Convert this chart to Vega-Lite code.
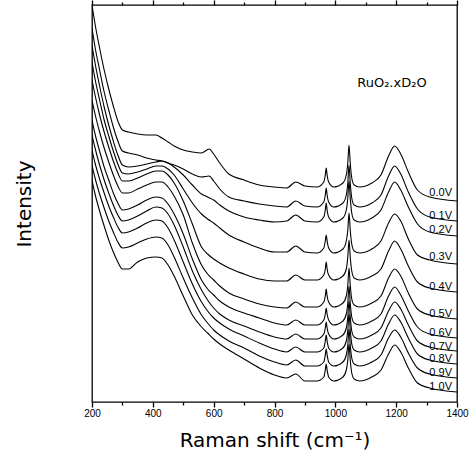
{
"$schema": "https://vega.github.io/schema/vega-lite/v6.json",
"width": 365, "height": 397,
"autosize": {"type": "none"},
"padding": {"left": 92, "top": 5, "right": 16, "bottom": 56},
"background": "white",
"config": {"view": {"stroke": "black", "strokeWidth": 1.3}, "axis": {"grid": false}},
"resolve": {"axis": {"x": "independent", "y": "independent"}},
"layer": [
{"data": {"values": [
{"s":"0.0V","x":200,"y":397},{"s":"0.0V","x":210,"y":378},{"s":"0.0V","x":225,"y":354},{"s":"0.0V","x":240,"y":332},{"s":"0.0V","x":255,"y":313},{"s":"0.0V","x":270,"y":296},{"s":"0.0V","x":285,"y":281},{"s":"0.0V","x":300,"y":272},{"s":"0.0V","x":320,"y":270},{"s":"0.0V","x":350,"y":268},{"s":"0.0V","x":380,"y":267},{"s":"0.0V","x":410,"y":267},{"s":"0.0V","x":430,"y":264},{"s":"0.0V","x":450,"y":260},{"s":"0.0V","x":470,"y":256},{"s":"0.0V","x":500,"y":252},{"s":"0.0V","x":530,"y":250},{"s":"0.0V","x":560,"y":249},{"s":"0.0V","x":585,"y":253},{"s":"0.0V","x":600,"y":248},{"s":"0.0V","x":620,"y":239},{"s":"0.0V","x":650,"y":228},{"s":"0.0V","x":700,"y":222},{"s":"0.0V","x":750,"y":217},{"s":"0.0V","x":800,"y":215},{"s":"0.0V","x":840,"y":214},{"s":"0.0V","x":870,"y":220},{"s":"0.0V","x":900,"y":216},{"s":"0.0V","x":940,"y":215},{"s":"0.0V","x":962,"y":220},{"s":"0.0V","x":967,"y":227},{"s":"0.0V","x":970,"y":234},{"s":"0.0V","x":973,"y":227},{"s":"0.0V","x":978,"y":220},{"s":"0.0V","x":995,"y":215},{"s":"0.0V","x":1025,"y":219},{"s":"0.0V","x":1036,"y":227},{"s":"0.0V","x":1041,"y":239},{"s":"0.0V","x":1045,"y":257},{"s":"0.0V","x":1049,"y":239},{"s":"0.0V","x":1054,"y":224},{"s":"0.0V","x":1062,"y":217},{"s":"0.0V","x":1080,"y":215},{"s":"0.0V","x":1120,"y":219},{"s":"0.0V","x":1150,"y":227},{"s":"0.0V","x":1175,"y":246},{"s":"0.0V","x":1195,"y":256},{"s":"0.0V","x":1215,"y":248},{"s":"0.0V","x":1240,"y":230},{"s":"0.0V","x":1270,"y":212},{"s":"0.0V","x":1310,"y":205},{"s":"0.0V","x":1400,"y":201},
{"s":"0.1V","x":200,"y":374},{"s":"0.1V","x":210,"y":355},{"s":"0.1V","x":225,"y":332},{"s":"0.1V","x":240,"y":310},{"s":"0.1V","x":255,"y":292},{"s":"0.1V","x":270,"y":275},{"s":"0.1V","x":285,"y":261},{"s":"0.1V","x":300,"y":251},{"s":"0.1V","x":320,"y":249},{"s":"0.1V","x":350,"y":247},{"s":"0.1V","x":380,"y":244},{"s":"0.1V","x":410,"y":242},{"s":"0.1V","x":430,"y":241},{"s":"0.1V","x":450,"y":239},{"s":"0.1V","x":470,"y":237},{"s":"0.1V","x":500,"y":233},{"s":"0.1V","x":530,"y":228},{"s":"0.1V","x":560,"y":225},{"s":"0.1V","x":585,"y":226},{"s":"0.1V","x":600,"y":221},{"s":"0.1V","x":620,"y":213},{"s":"0.1V","x":650,"y":205},{"s":"0.1V","x":700,"y":201},{"s":"0.1V","x":750,"y":198},{"s":"0.1V","x":800,"y":196},{"s":"0.1V","x":840,"y":195},{"s":"0.1V","x":870,"y":201},{"s":"0.1V","x":900,"y":196},{"s":"0.1V","x":940,"y":195},{"s":"0.1V","x":962,"y":200},{"s":"0.1V","x":967,"y":207},{"s":"0.1V","x":970,"y":214},{"s":"0.1V","x":973,"y":207},{"s":"0.1V","x":978,"y":200},{"s":"0.1V","x":995,"y":195},{"s":"0.1V","x":1025,"y":199},{"s":"0.1V","x":1036,"y":207},{"s":"0.1V","x":1041,"y":219},{"s":"0.1V","x":1045,"y":237},{"s":"0.1V","x":1049,"y":219},{"s":"0.1V","x":1054,"y":204},{"s":"0.1V","x":1062,"y":197},{"s":"0.1V","x":1080,"y":195},{"s":"0.1V","x":1120,"y":199},{"s":"0.1V","x":1150,"y":207},{"s":"0.1V","x":1175,"y":226},{"s":"0.1V","x":1195,"y":236},{"s":"0.1V","x":1215,"y":228},{"s":"0.1V","x":1240,"y":210},{"s":"0.1V","x":1270,"y":193},{"s":"0.1V","x":1310,"y":185},{"s":"0.1V","x":1400,"y":181},
{"s":"0.2V","x":200,"y":357},{"s":"0.2V","x":210,"y":339},{"s":"0.2V","x":225,"y":316},{"s":"0.2V","x":240,"y":295},{"s":"0.2V","x":255,"y":277},{"s":"0.2V","x":270,"y":261},{"s":"0.2V","x":285,"y":247},{"s":"0.2V","x":300,"y":237},{"s":"0.2V","x":320,"y":235},{"s":"0.2V","x":350,"y":236},{"s":"0.2V","x":380,"y":238},{"s":"0.2V","x":410,"y":240},{"s":"0.2V","x":430,"y":241},{"s":"0.2V","x":450,"y":239},{"s":"0.2V","x":470,"y":235},{"s":"0.2V","x":500,"y":227},{"s":"0.2V","x":530,"y":217},{"s":"0.2V","x":560,"y":208},{"s":"0.2V","x":580,"y":205},{"s":"0.2V","x":600,"y":202},{"s":"0.2V","x":620,"y":197},{"s":"0.2V","x":650,"y":191},{"s":"0.2V","x":700,"y":185},{"s":"0.2V","x":750,"y":182},{"s":"0.2V","x":800,"y":180},{"s":"0.2V","x":840,"y":181},{"s":"0.2V","x":870,"y":187},{"s":"0.2V","x":900,"y":181},{"s":"0.2V","x":940,"y":180},{"s":"0.2V","x":962,"y":185},{"s":"0.2V","x":967,"y":192},{"s":"0.2V","x":970,"y":199},{"s":"0.2V","x":973,"y":192},{"s":"0.2V","x":978,"y":185},{"s":"0.2V","x":995,"y":180},{"s":"0.2V","x":1025,"y":184},{"s":"0.2V","x":1036,"y":192},{"s":"0.2V","x":1041,"y":204},{"s":"0.2V","x":1045,"y":221},{"s":"0.2V","x":1049,"y":204},{"s":"0.2V","x":1054,"y":189},{"s":"0.2V","x":1062,"y":182},{"s":"0.2V","x":1080,"y":180},{"s":"0.2V","x":1120,"y":184},{"s":"0.2V","x":1150,"y":192},{"s":"0.2V","x":1175,"y":210},{"s":"0.2V","x":1195,"y":220},{"s":"0.2V","x":1215,"y":212},{"s":"0.2V","x":1240,"y":195},{"s":"0.2V","x":1270,"y":178},{"s":"0.2V","x":1310,"y":170},{"s":"0.2V","x":1400,"y":166},
{"s":"0.3V","x":200,"y":340},{"s":"0.3V","x":210,"y":323},{"s":"0.3V","x":225,"y":302},{"s":"0.3V","x":240,"y":282},{"s":"0.3V","x":255,"y":266},{"s":"0.3V","x":270,"y":251},{"s":"0.3V","x":285,"y":238},{"s":"0.3V","x":300,"y":229},{"s":"0.3V","x":320,"y":228},{"s":"0.3V","x":350,"y":230},{"s":"0.3V","x":380,"y":233},{"s":"0.3V","x":410,"y":236},{"s":"0.3V","x":430,"y":236},{"s":"0.3V","x":450,"y":233},{"s":"0.3V","x":470,"y":227},{"s":"0.3V","x":500,"y":213},{"s":"0.3V","x":530,"y":199},{"s":"0.3V","x":560,"y":188},{"s":"0.3V","x":580,"y":183},{"s":"0.3V","x":600,"y":179},{"s":"0.3V","x":620,"y":174},{"s":"0.3V","x":650,"y":167},{"s":"0.3V","x":700,"y":160},{"s":"0.3V","x":750,"y":154},{"s":"0.3V","x":800,"y":150},{"s":"0.3V","x":840,"y":150},{"s":"0.3V","x":870,"y":156},{"s":"0.3V","x":900,"y":150},{"s":"0.3V","x":940,"y":149},{"s":"0.3V","x":962,"y":154},{"s":"0.3V","x":967,"y":161},{"s":"0.3V","x":970,"y":167},{"s":"0.3V","x":973,"y":161},{"s":"0.3V","x":978,"y":154},{"s":"0.3V","x":995,"y":149},{"s":"0.3V","x":1025,"y":153},{"s":"0.3V","x":1036,"y":161},{"s":"0.3V","x":1041,"y":172},{"s":"0.3V","x":1045,"y":189},{"s":"0.3V","x":1049,"y":172},{"s":"0.3V","x":1054,"y":158},{"s":"0.3V","x":1062,"y":151},{"s":"0.3V","x":1080,"y":149},{"s":"0.3V","x":1120,"y":153},{"s":"0.3V","x":1150,"y":161},{"s":"0.3V","x":1175,"y":179},{"s":"0.3V","x":1195,"y":188},{"s":"0.3V","x":1215,"y":181},{"s":"0.3V","x":1240,"y":163},{"s":"0.3V","x":1270,"y":147},{"s":"0.3V","x":1310,"y":142},{"s":"0.3V","x":1400,"y":138},
{"s":"0.4V","x":200,"y":322},{"s":"0.4V","x":210,"y":307},{"s":"0.4V","x":225,"y":287},{"s":"0.4V","x":240,"y":270},{"s":"0.4V","x":255,"y":255},{"s":"0.4V","x":270,"y":241},{"s":"0.4V","x":285,"y":229},{"s":"0.4V","x":300,"y":221},{"s":"0.4V","x":320,"y":221},{"s":"0.4V","x":350,"y":224},{"s":"0.4V","x":380,"y":228},{"s":"0.4V","x":410,"y":231},{"s":"0.4V","x":430,"y":231},{"s":"0.4V","x":450,"y":227},{"s":"0.4V","x":470,"y":219},{"s":"0.4V","x":500,"y":201},{"s":"0.4V","x":530,"y":178},{"s":"0.4V","x":560,"y":155},{"s":"0.4V","x":580,"y":148},{"s":"0.4V","x":600,"y":143},{"s":"0.4V","x":620,"y":139},{"s":"0.4V","x":650,"y":134},{"s":"0.4V","x":700,"y":128},{"s":"0.4V","x":750,"y":123},{"s":"0.4V","x":800,"y":121},{"s":"0.4V","x":840,"y":121},{"s":"0.4V","x":870,"y":127},{"s":"0.4V","x":900,"y":122},{"s":"0.4V","x":940,"y":122},{"s":"0.4V","x":962,"y":127},{"s":"0.4V","x":967,"y":133},{"s":"0.4V","x":970,"y":140},{"s":"0.4V","x":973,"y":133},{"s":"0.4V","x":978,"y":127},{"s":"0.4V","x":995,"y":122},{"s":"0.4V","x":1025,"y":126},{"s":"0.4V","x":1036,"y":133},{"s":"0.4V","x":1041,"y":145},{"s":"0.4V","x":1045,"y":162},{"s":"0.4V","x":1049,"y":145},{"s":"0.4V","x":1054,"y":131},{"s":"0.4V","x":1062,"y":124},{"s":"0.4V","x":1080,"y":122},{"s":"0.4V","x":1120,"y":126},{"s":"0.4V","x":1150,"y":133},{"s":"0.4V","x":1175,"y":151},{"s":"0.4V","x":1195,"y":161},{"s":"0.4V","x":1215,"y":153},{"s":"0.4V","x":1240,"y":136},{"s":"0.4V","x":1270,"y":120},{"s":"0.4V","x":1310,"y":114},{"s":"0.4V","x":1400,"y":110},
{"s":"0.5V","x":200,"y":302},{"s":"0.5V","x":210,"y":288},{"s":"0.5V","x":225,"y":270},{"s":"0.5V","x":240,"y":254},{"s":"0.5V","x":255,"y":240},{"s":"0.5V","x":270,"y":227},{"s":"0.5V","x":285,"y":216},{"s":"0.5V","x":300,"y":209},{"s":"0.5V","x":320,"y":209},{"s":"0.5V","x":350,"y":213},{"s":"0.5V","x":380,"y":217},{"s":"0.5V","x":410,"y":220},{"s":"0.5V","x":430,"y":220},{"s":"0.5V","x":450,"y":215},{"s":"0.5V","x":470,"y":206},{"s":"0.5V","x":500,"y":187},{"s":"0.5V","x":530,"y":159},{"s":"0.5V","x":560,"y":137},{"s":"0.5V","x":580,"y":128},{"s":"0.5V","x":600,"y":122},{"s":"0.5V","x":620,"y":116},{"s":"0.5V","x":650,"y":109},{"s":"0.5V","x":700,"y":103},{"s":"0.5V","x":750,"y":98},{"s":"0.5V","x":800,"y":95},{"s":"0.5V","x":840,"y":94},{"s":"0.5V","x":870,"y":100},{"s":"0.5V","x":900,"y":95},{"s":"0.5V","x":940,"y":95},{"s":"0.5V","x":962,"y":100},{"s":"0.5V","x":967,"y":106},{"s":"0.5V","x":970,"y":113},{"s":"0.5V","x":973,"y":106},{"s":"0.5V","x":978,"y":100},{"s":"0.5V","x":995,"y":95},{"s":"0.5V","x":1025,"y":99},{"s":"0.5V","x":1036,"y":106},{"s":"0.5V","x":1041,"y":117},{"s":"0.5V","x":1045,"y":134},{"s":"0.5V","x":1049,"y":117},{"s":"0.5V","x":1054,"y":103},{"s":"0.5V","x":1062,"y":97},{"s":"0.5V","x":1080,"y":95},{"s":"0.5V","x":1120,"y":99},{"s":"0.5V","x":1150,"y":106},{"s":"0.5V","x":1175,"y":124},{"s":"0.5V","x":1195,"y":133},{"s":"0.5V","x":1215,"y":126},{"s":"0.5V","x":1240,"y":109},{"s":"0.5V","x":1270,"y":93},{"s":"0.5V","x":1310,"y":87},{"s":"0.5V","x":1400,"y":83},
{"s":"0.6V","x":200,"y":282},{"s":"0.6V","x":210,"y":268},{"s":"0.6V","x":225,"y":251},{"s":"0.6V","x":240,"y":235},{"s":"0.6V","x":255,"y":222},{"s":"0.6V","x":270,"y":209},{"s":"0.6V","x":285,"y":199},{"s":"0.6V","x":300,"y":192},{"s":"0.6V","x":320,"y":193},{"s":"0.6V","x":350,"y":197},{"s":"0.6V","x":380,"y":202},{"s":"0.6V","x":410,"y":205},{"s":"0.6V","x":430,"y":204},{"s":"0.6V","x":450,"y":198},{"s":"0.6V","x":470,"y":188},{"s":"0.6V","x":500,"y":168},{"s":"0.6V","x":530,"y":143},{"s":"0.6V","x":560,"y":122},{"s":"0.6V","x":580,"y":113},{"s":"0.6V","x":600,"y":107},{"s":"0.6V","x":620,"y":101},{"s":"0.6V","x":650,"y":95},{"s":"0.6V","x":700,"y":89},{"s":"0.6V","x":750,"y":84},{"s":"0.6V","x":800,"y":79},{"s":"0.6V","x":840,"y":77},{"s":"0.6V","x":870,"y":82},{"s":"0.6V","x":900,"y":77},{"s":"0.6V","x":940,"y":77},{"s":"0.6V","x":962,"y":82},{"s":"0.6V","x":967,"y":88},{"s":"0.6V","x":970,"y":94},{"s":"0.6V","x":973,"y":88},{"s":"0.6V","x":978,"y":82},{"s":"0.6V","x":995,"y":77},{"s":"0.6V","x":1025,"y":81},{"s":"0.6V","x":1036,"y":88},{"s":"0.6V","x":1041,"y":99},{"s":"0.6V","x":1045,"y":116},{"s":"0.6V","x":1049,"y":99},{"s":"0.6V","x":1054,"y":85},{"s":"0.6V","x":1062,"y":79},{"s":"0.6V","x":1080,"y":77},{"s":"0.6V","x":1120,"y":81},{"s":"0.6V","x":1150,"y":88},{"s":"0.6V","x":1175,"y":106},{"s":"0.6V","x":1195,"y":115},{"s":"0.6V","x":1215,"y":107},{"s":"0.6V","x":1240,"y":91},{"s":"0.6V","x":1270,"y":75},{"s":"0.6V","x":1310,"y":68},{"s":"0.6V","x":1400,"y":64},
{"s":"0.7V","x":200,"y":267},{"s":"0.7V","x":210,"y":254},{"s":"0.7V","x":225,"y":237},{"s":"0.7V","x":240,"y":222},{"s":"0.7V","x":255,"y":209},{"s":"0.7V","x":270,"y":197},{"s":"0.7V","x":285,"y":187},{"s":"0.7V","x":300,"y":181},{"s":"0.7V","x":320,"y":182},{"s":"0.7V","x":350,"y":186},{"s":"0.7V","x":380,"y":191},{"s":"0.7V","x":410,"y":195},{"s":"0.7V","x":430,"y":194},{"s":"0.7V","x":450,"y":188},{"s":"0.7V","x":470,"y":177},{"s":"0.7V","x":500,"y":155},{"s":"0.7V","x":530,"y":131},{"s":"0.7V","x":560,"y":112},{"s":"0.7V","x":580,"y":102},{"s":"0.7V","x":600,"y":94},{"s":"0.7V","x":620,"y":88},{"s":"0.7V","x":650,"y":82},{"s":"0.7V","x":700,"y":76},{"s":"0.7V","x":750,"y":70},{"s":"0.7V","x":800,"y":65},{"s":"0.7V","x":840,"y":63},{"s":"0.7V","x":870,"y":68},{"s":"0.7V","x":900,"y":63},{"s":"0.7V","x":940,"y":63},{"s":"0.7V","x":962,"y":68},{"s":"0.7V","x":967,"y":74},{"s":"0.7V","x":970,"y":80},{"s":"0.7V","x":973,"y":74},{"s":"0.7V","x":978,"y":68},{"s":"0.7V","x":995,"y":63},{"s":"0.7V","x":1025,"y":67},{"s":"0.7V","x":1036,"y":74},{"s":"0.7V","x":1041,"y":85},{"s":"0.7V","x":1045,"y":101},{"s":"0.7V","x":1049,"y":85},{"s":"0.7V","x":1054,"y":71},{"s":"0.7V","x":1062,"y":65},{"s":"0.7V","x":1080,"y":63},{"s":"0.7V","x":1120,"y":67},{"s":"0.7V","x":1150,"y":74},{"s":"0.7V","x":1175,"y":91},{"s":"0.7V","x":1195,"y":100},{"s":"0.7V","x":1215,"y":93},{"s":"0.7V","x":1240,"y":77},{"s":"0.7V","x":1270,"y":61},{"s":"0.7V","x":1310,"y":55},{"s":"0.7V","x":1400,"y":51},
{"s":"0.8V","x":200,"y":252},{"s":"0.8V","x":210,"y":239},{"s":"0.8V","x":225,"y":223},{"s":"0.8V","x":240,"y":209},{"s":"0.8V","x":255,"y":196},{"s":"0.8V","x":270,"y":185},{"s":"0.8V","x":285,"y":175},{"s":"0.8V","x":300,"y":169},{"s":"0.8V","x":320,"y":170},{"s":"0.8V","x":350,"y":174},{"s":"0.8V","x":380,"y":179},{"s":"0.8V","x":410,"y":182},{"s":"0.8V","x":430,"y":181},{"s":"0.8V","x":450,"y":174},{"s":"0.8V","x":470,"y":162},{"s":"0.8V","x":500,"y":140},{"s":"0.8V","x":530,"y":118},{"s":"0.8V","x":560,"y":100},{"s":"0.8V","x":580,"y":91},{"s":"0.8V","x":600,"y":84},{"s":"0.8V","x":620,"y":79},{"s":"0.8V","x":650,"y":73},{"s":"0.8V","x":700,"y":66},{"s":"0.8V","x":750,"y":59},{"s":"0.8V","x":800,"y":53},{"s":"0.8V","x":840,"y":50},{"s":"0.8V","x":870,"y":55},{"s":"0.8V","x":900,"y":50},{"s":"0.8V","x":940,"y":50},{"s":"0.8V","x":962,"y":54},{"s":"0.8V","x":967,"y":61},{"s":"0.8V","x":970,"y":67},{"s":"0.8V","x":973,"y":61},{"s":"0.8V","x":978,"y":54},{"s":"0.8V","x":995,"y":50},{"s":"0.8V","x":1025,"y":54},{"s":"0.8V","x":1036,"y":61},{"s":"0.8V","x":1041,"y":72},{"s":"0.8V","x":1045,"y":88},{"s":"0.8V","x":1049,"y":72},{"s":"0.8V","x":1054,"y":58},{"s":"0.8V","x":1062,"y":52},{"s":"0.8V","x":1080,"y":50},{"s":"0.8V","x":1120,"y":54},{"s":"0.8V","x":1150,"y":61},{"s":"0.8V","x":1175,"y":78},{"s":"0.8V","x":1195,"y":87},{"s":"0.8V","x":1215,"y":80},{"s":"0.8V","x":1240,"y":64},{"s":"0.8V","x":1270,"y":48},{"s":"0.8V","x":1310,"y":42},{"s":"0.8V","x":1400,"y":38},
{"s":"0.9V","x":200,"y":237},{"s":"0.9V","x":210,"y":224},{"s":"0.9V","x":225,"y":208},{"s":"0.9V","x":240,"y":194},{"s":"0.9V","x":255,"y":181},{"s":"0.9V","x":270,"y":170},{"s":"0.9V","x":285,"y":160},{"s":"0.9V","x":300,"y":154},{"s":"0.9V","x":320,"y":155},{"s":"0.9V","x":350,"y":159},{"s":"0.9V","x":380,"y":163},{"s":"0.9V","x":410,"y":165},{"s":"0.9V","x":430,"y":164},{"s":"0.9V","x":450,"y":157},{"s":"0.9V","x":470,"y":145},{"s":"0.9V","x":500,"y":124},{"s":"0.9V","x":530,"y":104},{"s":"0.9V","x":560,"y":87},{"s":"0.9V","x":580,"y":79},{"s":"0.9V","x":600,"y":72},{"s":"0.9V","x":620,"y":67},{"s":"0.9V","x":650,"y":61},{"s":"0.9V","x":700,"y":54},{"s":"0.9V","x":750,"y":46},{"s":"0.9V","x":800,"y":40},{"s":"0.9V","x":840,"y":37},{"s":"0.9V","x":870,"y":42},{"s":"0.9V","x":900,"y":36},{"s":"0.9V","x":940,"y":36},{"s":"0.9V","x":962,"y":40},{"s":"0.9V","x":967,"y":47},{"s":"0.9V","x":970,"y":53},{"s":"0.9V","x":973,"y":47},{"s":"0.9V","x":978,"y":40},{"s":"0.9V","x":995,"y":36},{"s":"0.9V","x":1025,"y":40},{"s":"0.9V","x":1036,"y":47},{"s":"0.9V","x":1041,"y":57},{"s":"0.9V","x":1045,"y":73},{"s":"0.9V","x":1049,"y":57},{"s":"0.9V","x":1054,"y":44},{"s":"0.9V","x":1062,"y":38},{"s":"0.9V","x":1080,"y":36},{"s":"0.9V","x":1120,"y":40},{"s":"0.9V","x":1150,"y":47},{"s":"0.9V","x":1175,"y":64},{"s":"0.9V","x":1195,"y":72},{"s":"0.9V","x":1215,"y":65},{"s":"0.9V","x":1240,"y":49},{"s":"0.9V","x":1270,"y":34},{"s":"0.9V","x":1310,"y":28},{"s":"0.9V","x":1400,"y":24},
{"s":"1.0V","x":200,"y":222},{"s":"1.0V","x":210,"y":208},{"s":"1.0V","x":225,"y":191},{"s":"1.0V","x":240,"y":176},{"s":"1.0V","x":255,"y":162},{"s":"1.0V","x":270,"y":150},{"s":"1.0V","x":285,"y":140},{"s":"1.0V","x":300,"y":133},{"s":"1.0V","x":320,"y":133},{"s":"1.0V","x":350,"y":140},{"s":"1.0V","x":380,"y":144},{"s":"1.0V","x":410,"y":145},{"s":"1.0V","x":430,"y":144},{"s":"1.0V","x":450,"y":137},{"s":"1.0V","x":470,"y":126},{"s":"1.0V","x":500,"y":106},{"s":"1.0V","x":530,"y":87},{"s":"1.0V","x":560,"y":75},{"s":"1.0V","x":580,"y":69},{"s":"1.0V","x":600,"y":63},{"s":"1.0V","x":620,"y":58},{"s":"1.0V","x":650,"y":52},{"s":"1.0V","x":700,"y":43},{"s":"1.0V","x":750,"y":34},{"s":"1.0V","x":800,"y":27},{"s":"1.0V","x":840,"y":24},{"s":"1.0V","x":870,"y":28},{"s":"1.0V","x":900,"y":21},{"s":"1.0V","x":940,"y":21},{"s":"1.0V","x":962,"y":25},{"s":"1.0V","x":967,"y":32},{"s":"1.0V","x":970,"y":38},{"s":"1.0V","x":973,"y":32},{"s":"1.0V","x":978,"y":25},{"s":"1.0V","x":995,"y":21},{"s":"1.0V","x":1025,"y":25},{"s":"1.0V","x":1036,"y":32},{"s":"1.0V","x":1041,"y":42},{"s":"1.0V","x":1045,"y":58},{"s":"1.0V","x":1049,"y":42},{"s":"1.0V","x":1054,"y":29},{"s":"1.0V","x":1062,"y":23},{"s":"1.0V","x":1080,"y":21},{"s":"1.0V","x":1120,"y":25},{"s":"1.0V","x":1150,"y":32},{"s":"1.0V","x":1175,"y":48},{"s":"1.0V","x":1195,"y":57},{"s":"1.0V","x":1215,"y":50},{"s":"1.0V","x":1240,"y":34},{"s":"1.0V","x":1270,"y":19},{"s":"1.0V","x":1310,"y":14},{"s":"1.0V","x":1400,"y":10}
]},
"mark": {"type": "line", "color": "black", "strokeWidth": 1.1, "interpolate": "monotone", "clip": true},
"encoding": {
"x": {"field": "x", "type": "quantitative", "scale": {"domain": [200, 1400], "nice": false, "zero": false},
"axis": {"orient": "bottom", "zindex": 1, "values": [200,300,400,500,600,700,800,900,1000,1100,1200,1300,1400], "format": "d", "labelExpr": "datum.value % 200 === 0 ? datum.label : ''", "ticks": true, "tickSize": {"condition": {"test": "datum.value % 200 === 0", "value": 5}, "value": 3}, "tickColor": "black", "tickWidth": 1.3, "domain": false, "labelFont": "Liberation Sans", "labelFontSize": 10, "labelColor": "black", "labelPadding": 1, "labelFlush": false, "labelOverlap": false, "title": "Raman shift (cm⁻¹)", "titleFont": "DejaVu Sans", "titleFontSize": 20, "titleFontWeight": "normal", "titleColor": "black", "titlePadding": 12}},
"y": {"field": "y", "type": "quantitative", "scale": {"domain": [0, 397], "nice": false, "zero": false},
"axis": {"title": "Intensity", "labels": false, "ticks": false, "domain": false, "titleFont": "DejaVu Sans", "titleFontSize": 20, "titleFontWeight": "normal", "titleColor": "black", "titlePadding": 58}},
"detail": {"field": "s"}
}},
{"data": {"values": [
{"s":"0.0V","x":1400,"y":209},{"s":"0.1V","x":1400,"y":186},{"s":"0.2V","x":1400,"y":172},{"s":"0.3V","x":1400,"y":145},{"s":"0.4V","x":1400,"y":115},{"s":"0.5V","x":1400,"y":88},{"s":"0.6V","x":1400,"y":69},{"s":"0.7V","x":1400,"y":55},{"s":"0.8V","x":1400,"y":43},{"s":"0.9V","x":1400,"y":29},{"s":"1.0V","x":1400,"y":15}
]},
"mark": {"type": "text", "align": "right", "baseline": "middle", "dx": -5, "font": "Liberation Sans", "fontSize": 11, "color": "black"},
"encoding": {
"x": {"field": "x", "type": "quantitative", "axis": {"orient": "top", "zindex": 1, "values": [200,300,400,500,600,700,800,900,1000,1100,1200,1300,1400], "labels": false, "ticks": true, "tickSize": {"condition": {"test": "datum.value % 200 === 0", "value": 5}, "value": 3}, "tickColor": "black", "tickWidth": 1.3, "domain": false, "title": null}},
"y": {"field": "y", "type": "quantitative", "axis": null},
"text": {"field": "s"}
}},
{"data": {"values": [{"t": "RuO₂.xD₂O", "x": 1186, "y": 319}]},
"mark": {"type": "text", "align": "center", "baseline": "middle", "font": "DejaVu Sans", "fontSize": 13, "color": "black"},
"encoding": {
"x": {"field": "x", "type": "quantitative", "axis": null},
"y": {"field": "y", "type": "quantitative", "axis": null},
"text": {"field": "t"}
}}
]
}
